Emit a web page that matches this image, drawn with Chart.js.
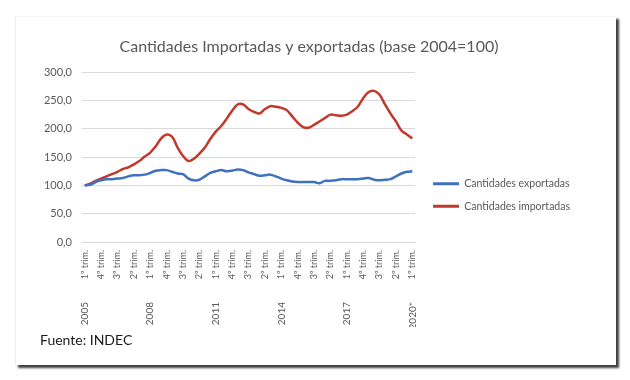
<!DOCTYPE html>
<html><head><meta charset="utf-8">
<script src="https://cdn.jsdelivr.net/npm/chart.js@4.4.1/dist/chart.umd.min.js"></script>
<style>
html,body{margin:0;padding:0;background:#fff;}
#wrap{position:relative;width:630px;height:380px;overflow:hidden;background:#fff;}
#frame{position:absolute;left:15px;top:16px;width:600px;height:348px;background:#fff;border-left:1px solid #eeeeee;border-top:1px solid #f6f6f6;box-shadow:3px 3px 2px rgba(0,0,0,0.75);}
#c{position:absolute;left:0;top:0;}
#src{position:absolute;left:40px;top:331px;font-family:Lato,"Open Sans",sans-serif;font-size:14px;color:#1a1a1a;}
</style></head>
<body><div id="wrap"><div id="frame"></div><canvas id="c" width="630" height="380"></canvas><div id="src">Fuente: INDEC</div></div>
<script>
const title = 'Cantidades Importadas y exportadas (base 2004=100)';
const quarters = [
 '1º trim.','2º trim.','3º trim.','4º trim.', '1º trim.','2º trim.','3º trim.','4º trim.',
 '1º trim.','2º trim.','3º trim.','4º trim.', '1º trim.','2º trim.','3º trim.','4º trim.',
 '1º trim.','2º trim.','3º trim.','4º trim.', '1º trim.','2º trim.','3º trim.','4º trim.',
 '1º trim.','2º trim.','3º trim.','4º trim.', '1º trim.','2º trim.','3º trim.','4º trim.',
 '1º trim.','2º trim.','3º trim.','4º trim.', '1º trim.','2º trim.','3º trim.','4º trim.',
 '1º trim.','2º trim.','3º trim.','4º trim.', '1º trim.','2º trim.','3º trim.','4º trim.',
 '1º trim.','2º trim.','3º trim.','4º trim.', '1º trim.','2º trim.','3º trim.','4º trim.',
 '1º trim.','2º trim.','3º trim.','4º trim.', '1º trim.'
];
const years = [
 '2005','2005','2005','2005','2006','2006','2006','2006','2007','2007','2007','2007',
 '2008','2008','2008','2008','2009','2009','2009','2009','2010','2010','2010','2010',
 '2011','2011','2011','2011','2012','2012','2012','2012','2013','2013','2013','2013',
 '2014','2014','2014','2014','2015','2015','2015','2015','2016','2016','2016','2016',
 '2017','2017','2017','2017','2018','2018','2018','2018','2019','2019','2019','2019',
 '2020*'
];
const exportadas = [
 100,101,106,109,111,111,112,113,116,118,118,119,
 122,126,127,127,124,121,120,112,109,110,116,122,
 125,127,125,126,128,127,123,120,117,118,119,116,
 112,109,107,106,106,106,106,104,108,108,109,111,
 111,111,111,112,113,110,109,110,111,116,121,124,
 125
];
const importadas = [
 100,103,108,112,116,120,124,129,132,137,143,151,
 158,169,183,190,186,167,152,143,147,156,167,182,
 195,205,218,232,243,243,235,230,227,235,240,239,
 237,233,222,211,203,202,207,213,219,225,224,223,
 225,231,239,254,265,267,260,243,227,213,197,190,
 183
];
const seriesNames = ['Cantidades exportadas','Cantidades importadas'];
const yTicks = [0,50,100,150,200,250,300];

const FONT = 'Lato, "Open Sans", sans-serif';
const GRAY = '#595959';

new Chart(document.getElementById('c'), {
  type: 'line',
  data: {
    labels: quarters,
    datasets: [
      {label: seriesNames[0], data: exportadas, borderColor: '#3F72BE', backgroundColor: '#3F72BE', borderWidth: 2.5, pointRadius: 0, tension: 0.35, xAxisID: 'x', yAxisID: 'y'},
      {label: seriesNames[1], data: importadas, borderColor: '#C0392B', backgroundColor: '#C0392B', borderWidth: 2.5, pointRadius: 0, tension: 0.35, xAxisID: 'x', yAxisID: 'y'}
    ]
  },
  options: {
    responsive: false,
    animation: false,
    devicePixelRatio: 1,
    layout: {padding: {left: 38, right: 50, top: 30, bottom: 53}},
    plugins: {
      title: {display: true, text: title, color: GRAY, font: {family: FONT, size: 16, weight: 'normal'}, padding: {top: 7, bottom: 16}},
      legend: {
        position: 'right',
        maxWidth: 220,
        title: {display: true, text: ' ', font: {family: FONT, size: 10}, padding: {top: 10, bottom: 11}},
        labels: {
          color: GRAY, font: {family: FONT, size: 10.5}, boxWidth: 26, boxHeight: 3, padding: 12,
          generateLabels: chart => Chart.defaults.plugins.legend.labels.generateLabels(chart).map(l => Object.assign(l, {lineWidth: 0}))
        }
      },
      tooltip: {enabled: false}
    },
    scales: {
      y: {
        min: 0, max: 300,
        afterFit: s => { s.width = 44; },
        afterBuildTicks: s => { s.ticks = yTicks.map(v => ({value: v})); },
        ticks: {color: GRAY, font: {family: FONT, size: 11}, padding: 10, callback: v => v.toFixed(1).replace('.', ',')},
        grid: {color: '#d9d9d9', drawTicks: false},
        border: {display: false}
      },
      yGap: {
        position: 'right', display: true, min: 0, max: 300,
        afterFit: s => { s.width = 6; },
        ticks: {display: false},
        grid: {display: false, drawTicks: false},
        border: {display: false}
      },
      x: {
        type: 'category', weight: 0, offset: true,
        afterFit: s => { s.height = 44; },
        ticks: {color: GRAY, font: {family: FONT, size: 9}, padding: 8, autoSkip: false, maxRotation: 90, minRotation: 90,
          callback: (v, i) => (i % 3 === 0 ? quarters[i] : '')},
        grid: {display: false, drawTicks: false},
        border: {display: true, color: '#d9d9d9'}
      },
      x2: {
        type: 'category', position: 'bottom', weight: 1, offset: true, labels: years,
        afterFit: s => { s.height = 41; },
        ticks: {color: GRAY, font: {family: FONT, size: 10}, padding: 16, autoSkip: false, maxRotation: 90, minRotation: 90,
          callback: (v, i) => (i % 12 === 0 ? years[i] : '')},
        grid: {display: false, drawTicks: false},
        border: {display: false}
      }
    }
  }
});
</script>
</body></html>
